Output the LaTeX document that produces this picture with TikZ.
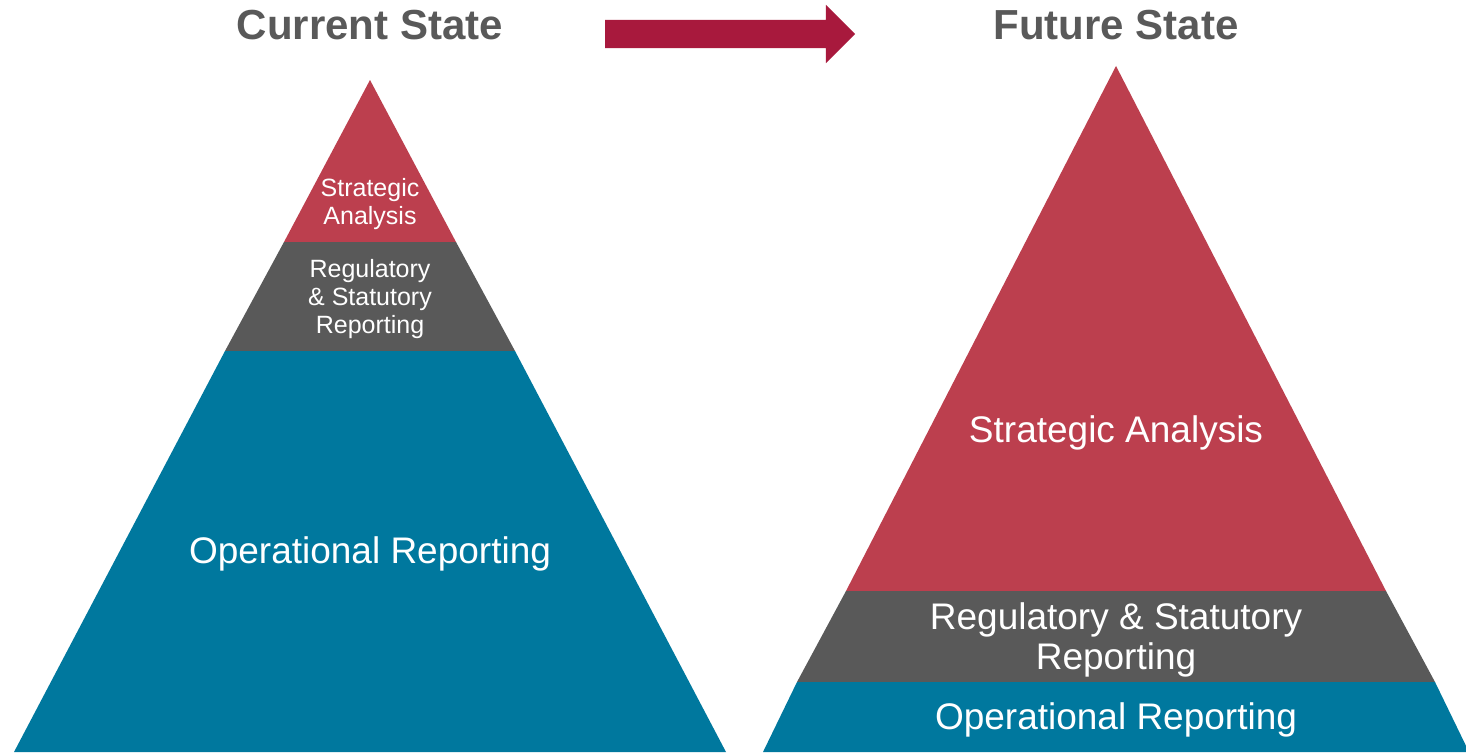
\documentclass[tikz,border=0pt]{standalone}
\usepackage{fontspec}
\setmainfont{Liberation Sans}
\usetikzlibrary{shapes.arrows}

\definecolor{stratred}{HTML}{BC3F4E}
\definecolor{reggray}{HTML}{595959}
\definecolor{opblue}{HTML}{00789E}
\definecolor{shiftred}{HTML}{A8193D}

\begin{document}
\begin{tikzpicture}[x=1pt, y=-1pt,
                title/.style={text=reggray, font=\bfseries\fontsize{42}{50}\selectfont},
                band_label/.style={text=white, align=center, inner sep=0pt},
                big_label/.style={band_label, font=\fontsize{37}{40}\selectfont},
                small_label/.style={band_label, font=\fontsize{25}{28}\selectfont}]
                \useasboundingbox (0,0) rectangle (1466,752);
                \fill[white] (0,0) rectangle (1466,752);
                % current state pyramid
                \fill[stratred] (370,80) -- (456,242) -- (284,242) -- cycle;
                \fill[reggray] (284,242) -- (456,242) -- (515,351) -- (225,351) -- cycle;
                \fill[opblue] (225,351) -- (515,351) -- (726,752) -- (14,752) -- cycle;
                % future state pyramid
                \fill[stratred] (1116,66) -- (1386,591) -- (846,591) -- cycle;
                \fill[reggray] (846,591) -- (1386,591) -- (1435,682) -- (797,682) -- cycle;
                \fill[opblue] (797,682) -- (1435,682) -- (1469,752) -- (763,752) -- cycle;
                % labels
                \node[title] (cur) at (370,25) {Current State};
                \node[title] (fut) at (1116,25) {Future State};
                \node[small_label] (cs) at (370,204) {Strategic\\Analysis};
                \node[small_label] (cr) at (370,299) {Regulatory\\\& Statutory\\Reporting};
                \node[big_label] (co) at (370,554) {Operational Reporting};
                \node[big_label] (fs) at (1116,433) {Strategic Analysis};
                \node[big_label] (fr) at (1116,640) {Regulatory \& Statutory\\Reporting};
                \node[big_label] (fo) at (1116,720) {Operational Reporting};
                % arrow between the two states
                \node[single arrow, fill=shiftred, draw=none, inner sep=14pt,
                      minimum height=250pt, single arrow head extend=15pt] (shift) at (723,34) {};
            \end{tikzpicture}
\end{document}
